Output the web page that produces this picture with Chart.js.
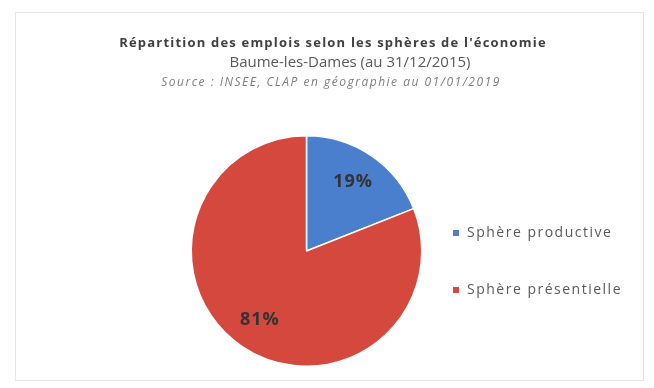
<!DOCTYPE html>
<html>
<head>
<meta charset="utf-8">
<script src="https://cdn.jsdelivr.net/npm/chart.js@4"></script>
<style>
  html, body { margin: 0; padding: 0; background: #fff; }
  #wrap { position: relative; width: 654px; height: 388px; }
  #frame { position: absolute; left: 15px; top: 12px; width: 629px; height: 369px; border: 1px solid #e4e4e4; box-sizing: border-box; }
  canvas { position: absolute; left: 0; top: 0; }
</style>
</head>
<body>
<div id="wrap">
  <div id="frame"></div>
  <canvas id="pieSpheres" width="654" height="388"></canvas>
</div>
<script>
const ctxSpheres = document.getElementById('pieSpheres');

const labels = ['Sphère productive', 'Sphère présentielle'];
const shares = [19, 81];
const colors = ['#4a7fcd', '#d5483e'];
const titleLines = [
    'Répartition des emplois selon les sphères de l\'économie',
    'Baume-les-Dames (au 31/12/2015)',
    'Source : INSEE, CLAP en géographie au 01/01/2019'
];

// titles, percent labels and legend drawn by hand to match the Excel layout
const excelDecor = {
    id: 'excelDecor',
    afterDraw(chart) {
        const c = chart.ctx;
        c.save();
        c.textAlign = 'center';
        c.textBaseline = 'middle';
        c.fillStyle = '#404040';
        c.font = 'bold 13px "Open Sans"';
        c.letterSpacing = '1.2px';
        c.fillText(titleLines[0], 333, 43);
        c.fillStyle = '#595959';
        c.font = '15px "Open Sans"';
        c.letterSpacing = '0px';
        c.fillText(titleLines[1], 350, 63);
        c.fillStyle = '#7f7f7f';
        c.font = 'italic 12px "Open Sans"';
        c.letterSpacing = '1.5px';
        c.fillText(titleLines[2], 331, 83);

        // percent labels
        const meta = chart.getDatasetMeta(0);
        c.fillStyle = '#333';
        c.font = 'bold 18px "Open Sans"';
        c.letterSpacing = '1px';
        meta.data.forEach((arc, i) => {
            const mid = (arc.startAngle + arc.endAngle) / 2;
            const r = arc.outerRadius * 0.72;
            c.fillText(shares[i] + '%', arc.x + Math.cos(mid) * r, arc.y + Math.sin(mid) * r);
        });

        // legend
        c.textAlign = 'left';
        c.font = '14px "Open Sans"';
        c.letterSpacing = '1.5px';
        labels.forEach((lab, i) => {
            const y = 233 + i * 57;
            c.fillStyle = colors[i];
            c.fillRect(453, y - 3, 6, 6);
            c.fillStyle = '#595959';
            c.fillText(lab, 467, y);
        });
        c.restore();
    }
};

new Chart(ctxSpheres, {
    type: 'pie',
    data: {
        labels: labels,
        datasets: [{
            data: shares,
            backgroundColor: colors,
            borderColor: '#ffffff',
            borderWidth: 1.5
        }]
    },
    options: {
        responsive: false,
        animation: false,
        layout: {
            padding: { top: 135, bottom: 21, left: 190, right: 231 }
        },
        plugins: {
            legend: { display: false },
            tooltip: { enabled: false }
        }
    },
    plugins: [excelDecor]
});
</script>
</body>
</html>
